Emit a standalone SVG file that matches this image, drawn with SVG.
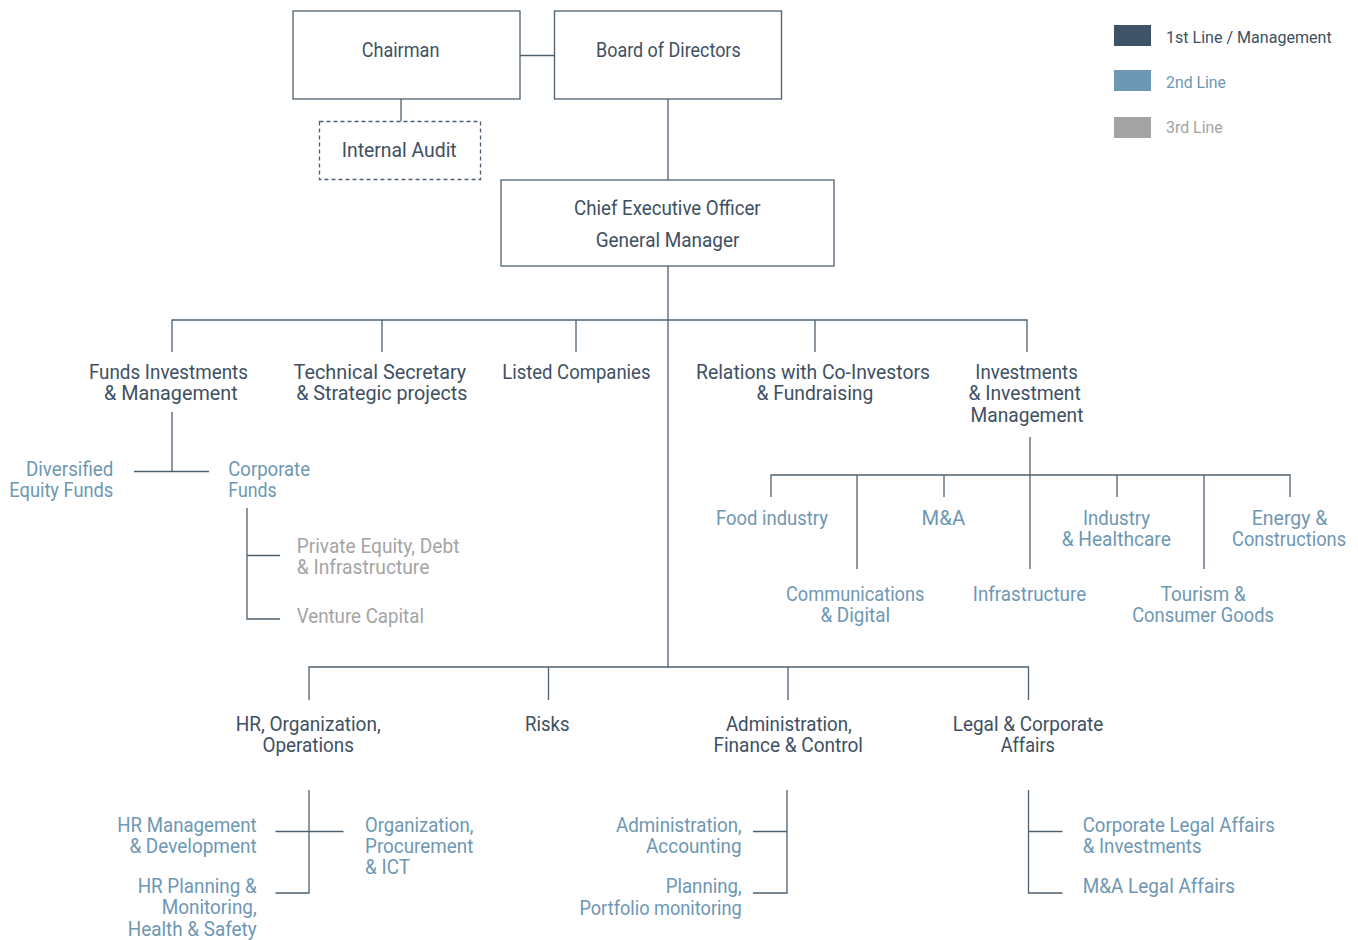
<svg xmlns="http://www.w3.org/2000/svg" width="1358" height="940" viewBox="0 0 1358 940">
<style>
text{font-family:Roboto,"Liberation Sans",sans-serif;font-size:19.5px}
.d{fill:#3e5062}
.b{fill:#6e97b3}
.g{fill:#a4a4a4}
.lg{font-size:17px}
.box{fill:#fff;stroke:#4e6070;stroke-width:1.3}
.dash{fill:#fff;stroke:#4e6070;stroke-width:1.3;stroke-dasharray:4 3}
.ln{fill:none;stroke:#4e6070;stroke-width:1.3}
</style>
<rect width="1358" height="940" fill="#fff"/>
<g id="connectors" class="ln">
<path d="M520 55.5H554.5M401 99V121.5M668 99V180M668 266V667"/>
<path d="M172 352V320H1027V352M382 320V352M576 320V352M815 320V352"/>
<path d="M172 412V471.5M134 471.5H209M247 508V619H280M247 555.5H280"/>
<path d="M1030 437V569M771 497V475H1290V497M944 475V497M1117 475V497M857 475V569M1204 475V569"/>
<path d="M309 700V667H1028.5V700M548.5 667V700M788 667V700"/>
<path d="M309 790V893H275.5M275.5 831.5H343.5M787 790V893H753M753 831.5H787M1028.5 790V893H1062.5M1028.5 831.5H1062.5"/>
</g>
<g id="legend">
<rect x="1114" y="25" width="37" height="21" fill="#3e5366"/>
<rect x="1114" y="70" width="37" height="21" fill="#6e97b3"/>
<rect x="1114" y="117" width="37" height="21" fill="#a4a4a4"/>
<text class="d lg" x="1166" y="43.3" textLength="165.7" lengthAdjust="spacingAndGlyphs">1st Line / Management</text>
<text class="b lg" x="1166" y="88.3" textLength="60" lengthAdjust="spacingAndGlyphs">2nd Line</text>
<text class="g lg" x="1166" y="133.3" textLength="56.7" lengthAdjust="spacingAndGlyphs">3rd Line</text>
</g>
<g id="chairman"><rect class="box" x="293" y="11" width="227" height="88"/><text class="d" x="361.7" y="57.3" textLength="77.7" lengthAdjust="spacingAndGlyphs">Chairman</text></g>
<g id="board"><rect class="box" x="554.5" y="11" width="227" height="88"/><text class="d" x="596" y="57.3" textLength="144.7" lengthAdjust="spacingAndGlyphs">Board of Directors</text></g>
<g id="audit"><rect class="dash" x="319.5" y="121.5" width="161" height="58"/><text class="d" x="341.7" y="156.7" textLength="115" lengthAdjust="spacingAndGlyphs">Internal Audit</text></g>
<g id="ceo"><rect class="box" x="501" y="180" width="333" height="86"/><text class="d" x="574" y="215" textLength="186.7" lengthAdjust="spacingAndGlyphs">Chief Executive Officer</text><text class="d" x="595.7" y="247" textLength="143.7" lengthAdjust="spacingAndGlyphs">General Manager</text></g>
<g id="funds"><text class="d" x="88.9" y="378.5" textLength="159.1" lengthAdjust="spacingAndGlyphs">Funds Investments</text><text class="d" x="104" y="400" textLength="133.6" lengthAdjust="spacingAndGlyphs">&amp; Management</text></g>
<g id="technical"><text class="d" x="293.6" y="378.5" textLength="172.6" lengthAdjust="spacingAndGlyphs">Technical Secretary</text><text class="d" x="296.2" y="400" textLength="171.3" lengthAdjust="spacingAndGlyphs">&amp; Strategic projects</text></g>
<g id="listed"><text class="d" x="502.2" y="378.5" textLength="148.3" lengthAdjust="spacingAndGlyphs">Listed Companies</text></g>
<g id="relations"><text class="d" x="696" y="378.5" textLength="234" lengthAdjust="spacingAndGlyphs">Relations with Co-Investors</text><text class="d" x="756.5" y="400" textLength="116.8" lengthAdjust="spacingAndGlyphs">&amp; Fundraising</text></g>
<g id="investments"><text class="d" x="975.3" y="378.5" textLength="102.5" lengthAdjust="spacingAndGlyphs">Investments</text><text class="d" x="968.4" y="400" textLength="112.4" lengthAdjust="spacingAndGlyphs">&amp; Investment</text><text class="d" x="970.5" y="421.7" textLength="112.9" lengthAdjust="spacingAndGlyphs">Management</text></g>
<g id="diversified"><text class="b" x="26" y="476" textLength="87.3" lengthAdjust="spacingAndGlyphs">Diversified</text><text class="b" x="9.3" y="497.3" textLength="104" lengthAdjust="spacingAndGlyphs">Equity Funds</text></g>
<g id="corporate-funds"><text class="b" x="228.3" y="476" textLength="81.7" lengthAdjust="spacingAndGlyphs">Corporate</text><text class="b" x="228.3" y="497.3" textLength="48.3" lengthAdjust="spacingAndGlyphs">Funds</text></g>
<g id="private-equity"><text class="g" x="296.7" y="553.3" textLength="162.7" lengthAdjust="spacingAndGlyphs">Private Equity, Debt</text><text class="g" x="296.7" y="574.3" textLength="132.7" lengthAdjust="spacingAndGlyphs">&amp; Infrastructure</text></g>
<g id="venture"><text class="g" x="296.7" y="623.3" textLength="127.3" lengthAdjust="spacingAndGlyphs">Venture Capital</text></g>
<g id="food"><text class="b" x="716" y="525" textLength="112" lengthAdjust="spacingAndGlyphs">Food industry</text></g>
<g id="ma"><text class="b" x="921.6" y="525" textLength="43.6" lengthAdjust="spacingAndGlyphs">M&amp;A</text></g>
<g id="industry"><text class="b" x="1083" y="525" textLength="67.1" lengthAdjust="spacingAndGlyphs">Industry</text><text class="b" x="1061.7" y="546" textLength="109.1" lengthAdjust="spacingAndGlyphs">&amp; Healthcare</text></g>
<g id="energy"><text class="b" x="1251.8" y="525" textLength="75.5" lengthAdjust="spacingAndGlyphs">Energy &amp;</text><text class="b" x="1232" y="546" textLength="114.1" lengthAdjust="spacingAndGlyphs">Constructions</text></g>
<g id="communications"><text class="b" x="786" y="600.7" textLength="138.5" lengthAdjust="spacingAndGlyphs">Communications</text><text class="b" x="820.4" y="622" textLength="69.7" lengthAdjust="spacingAndGlyphs">&amp; Digital</text></g>
<g id="infrastructure"><text class="b" x="972.8" y="600.7" textLength="113.3" lengthAdjust="spacingAndGlyphs">Infrastructure</text></g>
<g id="tourism"><text class="b" x="1160.8" y="600.7" textLength="84.8" lengthAdjust="spacingAndGlyphs">Tourism &amp;</text><text class="b" x="1132.2" y="622" textLength="141.8" lengthAdjust="spacingAndGlyphs">Consumer Goods</text></g>
<g id="hr"><text class="d" x="235.7" y="730.7" textLength="145" lengthAdjust="spacingAndGlyphs">HR, Organization,</text><text class="d" x="262.5" y="751.7" textLength="91.5" lengthAdjust="spacingAndGlyphs">Operations</text></g>
<g id="risks"><text class="d" x="525" y="730.7" textLength="44.6" lengthAdjust="spacingAndGlyphs">Risks</text></g>
<g id="administration"><text class="d" x="725.9" y="730.7" textLength="125.9" lengthAdjust="spacingAndGlyphs">Administration,</text><text class="d" x="713.4" y="751.7" textLength="149.6" lengthAdjust="spacingAndGlyphs">Finance &amp; Control</text></g>
<g id="legal"><text class="d" x="952.7" y="730.7" textLength="150.7" lengthAdjust="spacingAndGlyphs">Legal &amp; Corporate</text><text class="d" x="1000.7" y="751.7" textLength="54.3" lengthAdjust="spacingAndGlyphs">Affairs</text></g>
<g id="hr-management"><text class="b" x="117.3" y="831.7" textLength="139.3" lengthAdjust="spacingAndGlyphs">HR Management</text><text class="b" x="129.4" y="852.7" textLength="127.3" lengthAdjust="spacingAndGlyphs">&amp; Development</text></g>
<g id="hr-planning"><text class="b" x="137.7" y="893.3" textLength="119" lengthAdjust="spacingAndGlyphs">HR Planning &amp;</text><text class="b" x="161.7" y="914.3" textLength="95" lengthAdjust="spacingAndGlyphs">Monitoring,</text><text class="b" x="127.7" y="935.5" textLength="129" lengthAdjust="spacingAndGlyphs">Health &amp; Safety</text></g>
<g id="organization"><text class="b" x="365" y="831.7" textLength="108.3" lengthAdjust="spacingAndGlyphs">Organization,</text><text class="b" x="365" y="852.7" textLength="108.3" lengthAdjust="spacingAndGlyphs">Procurement</text><text class="b" x="365" y="873.7" textLength="45" lengthAdjust="spacingAndGlyphs">&amp; ICT</text></g>
<g id="admin-accounting"><text class="b" x="616" y="831.7" textLength="125.7" lengthAdjust="spacingAndGlyphs">Administration,</text><text class="b" x="646" y="852.7" textLength="95.7" lengthAdjust="spacingAndGlyphs">Accounting</text></g>
<g id="planning"><text class="b" x="665.7" y="893.3" textLength="76" lengthAdjust="spacingAndGlyphs">Planning,</text><text class="b" x="579.4" y="914.7" textLength="162.3" lengthAdjust="spacingAndGlyphs">Portfolio monitoring</text></g>
<g id="corporate-legal"><text class="b" x="1082.7" y="831.7" textLength="192.3" lengthAdjust="spacingAndGlyphs">Corporate Legal Affairs</text><text class="b" x="1082.7" y="852.7" textLength="119" lengthAdjust="spacingAndGlyphs">&amp; Investments</text></g>
<g id="ma-legal"><text class="b" x="1082.7" y="893.3" textLength="152.3" lengthAdjust="spacingAndGlyphs">M&amp;A Legal Affairs</text></g>
</svg>
